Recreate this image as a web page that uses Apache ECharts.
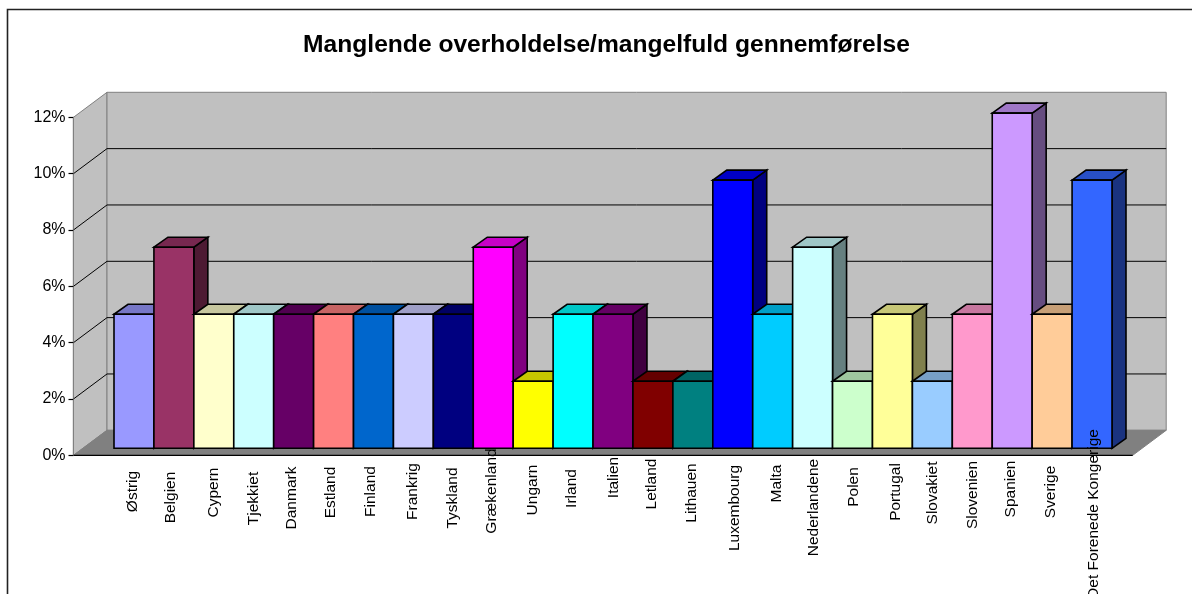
<!DOCTYPE html>
<html><head><meta charset="utf-8">
<style>html,body{margin:0;padding:0;background:#fff}#c{width:1192px;height:594px}</style>
<script src="https://cdn.jsdelivr.net/npm/echarts@6/dist/echarts.min.js"></script>
</head><body><div id="c"></div>
<script>
const titleText = 'Manglende overholdelse/mangelfuld gennemførelse';
const categories = ['Østrig','Belgien','Cypern','Tjekkiet','Danmark','Estland','Finland','Frankrig','Tyskland','Grækenland','Ungarn','Irland','Italien','Letland','Lithauen','Luxembourg','Malta','Nederlandene','Polen','Portugal','Slovakiet','Slovenien','Spanien','Sverige','Det Forenede Kongerige'];
const values = [4.76,7.14,4.76,4.76,4.76,4.76,4.76,4.76,4.76,7.14,2.38,4.76,4.76,2.38,2.38,9.52,4.76,7.14,2.38,4.76,2.38,4.76,11.9,4.76,9.52];
const colors = ['#9999FF','#993366','#FFFFCC','#CCFFFF','#660066','#FF8080','#0066CC','#CCCCFF','#000080','#FF00FF','#FFFF00','#00FFFF','#800080','#800000','#008080','#0000FF','#00CCFF','#CCFFFF','#CCFFCC','#FFFF99','#99CCFF','#FF99CC','#CC99FF','#FFCC99','#3366FF'];
const gridTicks = [2,4,6,8,10];

// layout of the hand-placed category labels in the original (pixels)
const labelShiftX = [-1.5,-3,0,0,-2,-3,-3,-1,-1,-2,0,-1,1,-1,-1,1.5,4.5,1.5,1.5,3.5,0.5,0.5,-1.5,-1.5,2];
const labelMidY = [491.5,497.5,492.5,498.5,498,492.5,491.5,491.5,498,491,490,488.5,477.5,484,493,508,483.5,507.5,487,492,493,495,489,492,514];

const GRID = {left:114, top:117.3, width:998, height:338};
const WALL = {dx:33.5, dy:-25, leftPad:40.5, rightPad:20.7};
const BAR = {dx:14, dy:-10, lift:7};
const shade = (hex,k)=>{
  const n=parseInt(hex.slice(1),16);
  const c=[(n>>16)&255,(n>>8)&255,n&255].map(v=>Math.round(v*k));
  return 'rgb('+c.join(',')+')';
};

function renderWalls(params, api){
  const cs = params.coordSys;
  const x0 = cs.x-WALL.leftPad, x1 = cs.x+cs.width+WALL.rightPad;
  const yB = api.coord([0,0])[1], yT = api.coord([0,12])[1];
  const {dx,dy} = WALL;
  const border = {stroke:'#808080', lineWidth:1};
  return {type:'group', children:[
    {type:'polygon', shape:{points:[[x0,yB],[x0+dx,yB+dy],[x0+dx,yT+dy],[x0,yT]]}, style:{fill:'#C0C0C0',...border}},
    {type:'polygon', shape:{points:[[x0+dx,yB+dy],[x1+dx,yB+dy],[x1+dx,yT+dy],[x0+dx,yT+dy]]}, style:{fill:'#C0C0C0',...border}},
    {type:'polygon', shape:{points:[[x0,yB],[x0+dx,yB+dy],[x1+dx,yB+dy],[x1,yB]]}, style:{fill:'#808080',...border}},
    {type:'line', shape:{x1:x0,y1:yB,x2:x1,y2:yB}, style:{stroke:'#000',lineWidth:1.2}}
  ]};
}
function renderGridLine(params, api){
  const cs = params.coordSys;
  const x0 = cs.x-WALL.leftPad, x1 = cs.x+cs.width+WALL.rightPad;
  const y = api.coord([0,api.value(0)])[1];
  return {type:'polyline', shape:{points:[[x0,y],[x0+WALL.dx,y+WALL.dy],[x1+WALL.dx,y+WALL.dy]]}, style:{stroke:'#000',lineWidth:1,fill:null}};
}
function renderBar(params, api){
  const i = api.value(0), v = api.value(1);
  const c = api.coord([i,v]), w = api.size([1,0])[0];
  const l = c[0]-w/2, r = c[0]+w/2;
  const t = c[1]-BAR.lift, b = api.coord([i,0])[1]-BAR.lift;
  const {dx,dy} = BAR, col = colors[params.dataIndex];
  const st = {stroke:'#000', lineWidth:1.6, lineJoin:'miter'};
  return {type:'group', children:[
    {type:'polygon', shape:{points:[[r,b],[r+dx,b+dy],[r+dx,t+dy],[r,t]]}, style:{fill:shade(col,.5),...st}},
    {type:'polygon', shape:{points:[[l,t],[l+dx,t+dy],[r+dx,t+dy],[r,t]]}, style:{fill:shade(col,.78),...st}},
    {type:'polygon', shape:{points:[[l,b],[l,t],[r,t],[r,b]]}, style:{fill:col,...st}}
  ]};
}
function renderLabel(params, api){
  const i = params.dataIndex;
  const c = api.coord([i,0]);
  return {type:'text', x:c[0]+labelShiftX[i], y:labelMidY[i], rotation:Math.PI/2,
    style:{text:categories[i], textAlign:'center', textVerticalAlign:'middle', fill:'#000', font:'15.5px "Liberation Sans", Arial, sans-serif'}};
}

const chart = echarts.init(document.getElementById('c'), null, {renderer:'canvas'});
chart.setOption({
  animation:false,
  backgroundColor:'#fff',
  title:{text:titleText, left:601.5, top:28, textAlign:'center',
    textStyle:{fontFamily:'"Liberation Sans", Arial, sans-serif', fontWeight:'bold', fontSize:24.6, color:'#000'}},
  grid:GRID,
  xAxis:{type:'category', data:categories, axisLine:{show:false}, axisTick:{show:false}, axisLabel:{show:false}, splitLine:{show:false}},
  yAxis:{type:'value', min:0, max:12, interval:2, offset:40.5,
    axisLine:{show:true, lineStyle:{color:'#000',width:1.2}},
    axisTick:{show:true, length:5, lineStyle:{color:'#000',width:1.2}},
    axisLabel:{formatter:'{value}%', fontSize:16, color:'#000', margin:8, fontFamily:'"Liberation Sans", Arial, sans-serif'},
    splitLine:{show:false}},
  graphic:[
    {type:'polyline', z:50, silent:true, shape:{points:[[7.5,600],[7.5,9.5],[1200,9.5]]}, style:{stroke:'#222',lineWidth:1.6,fill:null}}
  ],
  series:[
    {type:'custom', name:'walls', z:1, silent:true, data:[0], renderItem:renderWalls},
    {type:'custom', name:'grid', z:2, silent:true, data:gridTicks, renderItem:renderGridLine, encode:{x:[],y:0}},
    {type:'custom', name:'bars', z:3, silent:true, data:values.map((v,i)=>[i,v]), renderItem:renderBar, encode:{x:0,y:1}},
    {type:'custom', name:'labels', z:4, silent:true, data:categories.map((c,i)=>[i,0]), renderItem:renderLabel, encode:{x:0,y:1}}
  ]
});
</script></body></html>
